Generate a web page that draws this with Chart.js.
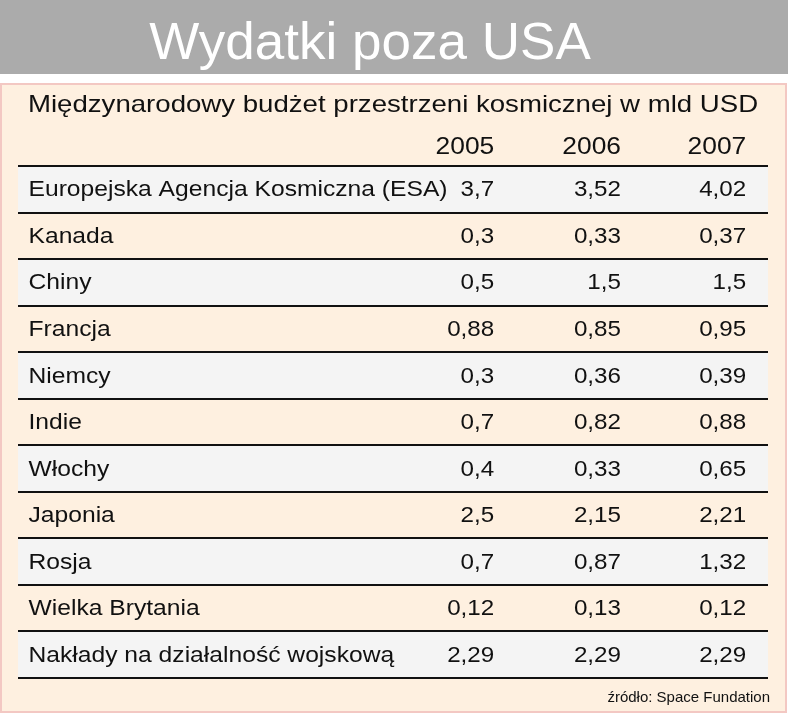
<!DOCTYPE html>
<html><head><meta charset="utf-8">
<script src="https://cdn.jsdelivr.net/npm/chart.js@4/dist/chart.umd.min.js"></script>
<style>body{margin:0;background:#fff}canvas{display:block}</style>
</head><body>
<canvas id="c" width="788" height="715"></canvas>
<script>
const TITLE = 'Wydatki poza USA';
const SUBTITLE = 'Międzynarodowy budżet przestrzeni kosmicznej w mld USD';
const SOURCE = 'źródło: Space Fundation';
const YEARS = ['2005', '2006', '2007'];
const COUNTRIES = ['Europejska Agencja Kosmiczna (ESA)', 'Kanada', 'Chiny', 'Francja', 'Niemcy', 'Indie',
  'Włochy', 'Japonia', 'Rosja', 'Wielka Brytania', 'Nakłady na działalność wojskową'];
const V2005 = ['3,7', '0,3', '0,5', '0,88', '0,3', '0,7', '0,4', '2,5', '0,7', '0,12', '2,29'];
const V2006 = ['3,52', '0,33', '1,5', '0,85', '0,36', '0,82', '0,33', '2,15', '0,87', '0,13', '2,29'];
const V2007 = ['4,02', '0,37', '1,5', '0,95', '0,39', '0,88', '0,65', '2,21', '1,32', '0,12', '2,29'];
const COLS = [V2005, V2006, V2007];
const COL_X = [0.635, 0.804, 0.971]; // right edge of each value column, as fraction of table width

const FONT = "'Liberation Sans', Arial, sans-serif";

// draw text stretched horizontally to mimic the wider face in the reference
function wideText(ctx, s, x, y, align, sx) {
  ctx.save();
  const w = ctx.measureText(s).width * sx;
  let left = align === 'right' ? x - w : align === 'center' ? x - w / 2 : x;
  ctx.translate(left, y);
  ctx.scale(sx, 1);
  ctx.textAlign = 'left';
  ctx.fillText(s, 0, 0);
  ctx.restore();
}

const tablePlugin = {
  id: 'table',
  beforeDraw(chart) {
    const ctx = chart.ctx;
    ctx.save();
    ctx.fillStyle = '#fff';
    ctx.fillRect(0, 0, 788, 715);
    ctx.fillStyle = '#ababab';
    ctx.fillRect(0, 0, 788, 74);
    ctx.fillStyle = '#fff';
    ctx.font = '52px ' + FONT;
    ctx.textBaseline = 'alphabetic';
    wideText(ctx, TITLE, 370, 59, 'center', 1.02);
    ctx.fillStyle = '#fef0e0';
    ctx.fillRect(1, 84, 785, 628);
    ctx.strokeStyle = '#f3c8c3';
    ctx.lineWidth = 2;
    ctx.strokeRect(1, 84, 785, 628);
    ctx.restore();
  },
  afterDraw(chart) {
    const ctx = chart.ctx;
    const x = chart.scales.x, y = chart.scales.y;
    const step = y.getPixelForValue(1) - y.getPixelForValue(0);
    ctx.save();
    ctx.fillStyle = '#111';
    ctx.font = '24px ' + FONT;
    wideText(ctx, SUBTITLE, 28, 112, 'left', 1.15);
    YEARS.forEach((yr, j) => wideText(ctx, yr, x.getPixelForValue(COL_X[j]), 154, 'right', 1.1));
    ctx.strokeStyle = '#111';
    ctx.lineWidth = 2;
    for (let i = 0; i <= COUNTRIES.length; i++) {
      const py = y.getPixelForValue(Math.min(i, COUNTRIES.length - 1)) + (i < COUNTRIES.length ? -step / 2 : step / 2);
      ctx.beginPath();
      ctx.moveTo(x.left, Math.round(py));
      ctx.lineTo(x.right, Math.round(py));
      ctx.stroke();
    }
    ctx.font = '22px ' + FONT;
    ctx.textBaseline = 'middle';
    COUNTRIES.forEach((name, i) => {
      const py = y.getPixelForValue(i) + 1;
      wideText(ctx, name, x.getPixelForValue(0.014), py, 'left', 1.12);
      COLS.forEach((col, j) => wideText(ctx, col[i], x.getPixelForValue(COL_X[j]), py, 'right', 1.1));
    });
    ctx.font = '15px ' + FONT;
    ctx.textBaseline = 'alphabetic';
    wideText(ctx, SOURCE, 770, 702, 'right', 1.0);
    ctx.restore();
  }
};

new Chart(document.getElementById('c'), {
  type: 'bar',
  data: {
    labels: COUNTRIES,
    datasets: [{
      data: COUNTRIES.map(() => [0, 1]),
      backgroundColor: COUNTRIES.map((_, i) => i % 2 === 0 ? '#f4f4f4' : '#fef0e0'),
      barPercentage: 1,
      categoryPercentage: 1,
      borderWidth: 0,
    }],
  },
  options: {
    indexAxis: 'y',
    responsive: false,
    animation: false,
    layout: { padding: { left: 18, right: 20, top: 166, bottom: 37 } },
    plugins: { legend: { display: false }, tooltip: { enabled: false } },
    scales: {
      x: { display: false, min: 0, max: 1 },
      y: { display: false },
    },
  },
  plugins: [tablePlugin],
});
</script>
</body></html>
